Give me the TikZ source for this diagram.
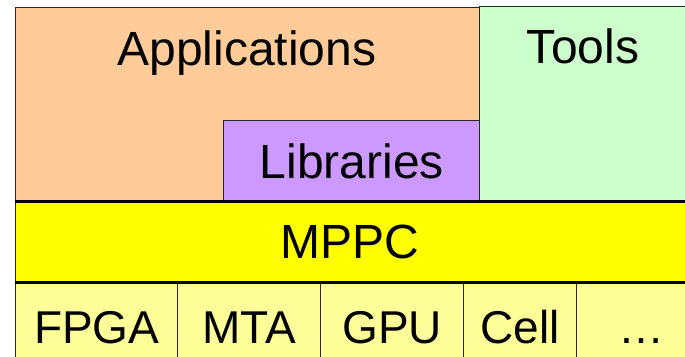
\documentclass[tikz,border=0pt]{standalone}
\usepackage{fontspec}
\setmainfont{Liberation Sans}
\usetikzlibrary{positioning}
\definecolor{appfill}{HTML}{FFCC99}
\definecolor{toolfill}{HTML}{CCFFCC}
\definecolor{libfill}{HTML}{CC99FF}
\definecolor{mppcfill}{HTML}{FFFF00}
\definecolor{hwfill}{HTML}{FFFF99}
\begin{document}
\begin{tikzpicture}[
    x=1pt, y=-1pt,
    layer/.style={draw=black!85, line width=1.4pt, inner sep=0pt, anchor=north west,
        font=\fontsize{48}{52}\selectfont},
    caption/.style={anchor=base, inner sep=0pt, font=\fontsize{48}{52}\selectfont},
    hw/.style={layer, fill=hwfill, minimum height=90pt, font=\fontsize{46}{50}\selectfont,
        text height=33pt, text depth=0pt},
    rule/.style={line width=3pt, black}
]
\useasboundingbox (0,0) rectangle (685,356);

% upper software layers
\node[layer, fill=appfill, minimum width=464pt, minimum height=194pt] (app) at (15,7) {};
\node[caption] (apptext) at (247,65) {Applications};
\node[layer, fill=libfill, minimum width=256pt, minimum height=81pt] (lib) at (223,120) {Libraries};
\node[layer, fill=toolfill, minimum width=230pt, minimum height=195pt] (tools) at (479,6) {};
\node[caption] (toolstext) at (583,63) {Tools};

% hardware targets
\node[hw, minimum width=162pt] (fpga) at (15,281) {FPGA};
\node[hw, minimum width=143pt] (mta) at (177,281) {MTA};
\node[hw, minimum width=143pt] (gpu) at (320,281) {GPU};
\node[hw, minimum width=113pt] (cell) at (463,281) {Cell};
\node[hw, minimum width=130pt] (more) at (576,281) {\dots};

% MPPC runtime in between, heavy rules above and below
\node[layer, fill=mppcfill, minimum width=700pt, minimum height=80pt] (mppc) at (15,201) {};
\draw[rule] (mppc.north west) -- (mppc.north east);
\draw[rule] (mppc.south west) -- (mppc.south east);
\node[caption] (mppctext) at (350,258) {MPPC};

\end{tikzpicture}
\end{document}
